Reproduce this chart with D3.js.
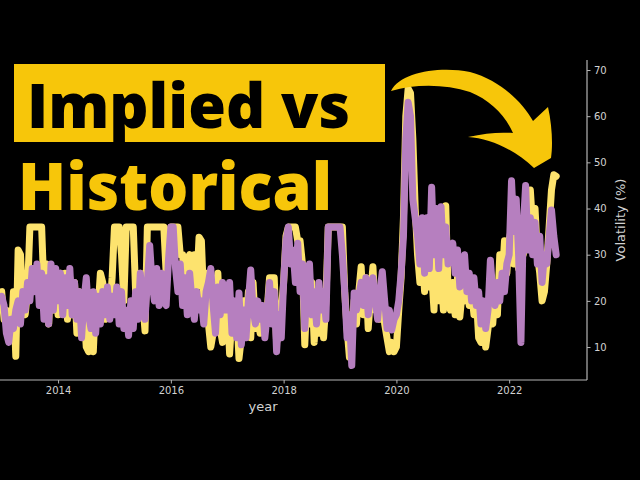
<!DOCTYPE html>
<html>
<head>
<meta charset="utf-8">
<script src="https://cdn.jsdelivr.net/npm/d3@7"></script>
<style>
  html, body { margin: 0; padding: 0; background: #000; }
  svg { display: block; }
</style>
</head>
<body>
<svg id="chart" width="640" height="480"></svg>
<script>
// ---- data (semi-monthly samples from 2013.0, decimal years) ----
const startYear = 2013;
const stepsPerYear = 24;
const implied = [
  22,16,18,14,12,22,8,31,30,20,17,22,36,36,36,36,36,36,22,28,15,27,18,26,
  17,26,19,26,16,25,17,24,13,22,14,18,10,9,14,9,21,18,26,24,16,22,18,25,
  36,36,36,30,20,36,36,36,36,22,17,26,20,13.5,36,36,36,36,36,36,36,36,26,30,
  36,36,36,36,30,30,22,29,30,22,30,23,33.8,33,20,26,15,10,13,22,26,14,11,20,
  20,8.5,17,14,18,7.5,12,20,13,22,12,24,14,16,13,17,14,18,25,25,25,11,13,18,
  24,34,36,36,36,36,33,33,28,10.5,22,15,24,11,20,13,22,12,20,36,36,36,36,36,
  36,36,22,14,7.8,12,20,15,22,27.4,17,25,14,21,27.4,18,22,16,20,15,12,9,11,9,
  10,18,25,38,60,66,65,55,40,30,24,30,22,32,23,26,18,32,20,26,18,40.6,22,18,
  24,17,25,16.5,22,20,24,19,22,17,21,12,11,15,10,14,18,15,22,17,30,24,33,26,
  33,36,28,36,27,32,30,36,40,44,36,40,30,26,20,22,28,36,44,47.3,47
];
const historical = [
  21,19,13,11,16,14,18,20,15,22,18,24,20,27,22,28,19,26,16,25,15,28,18,27,
  20,26,17,25,19,27,17,24,16,22,12,20,25,17,14,22,13,21,15,22,17,23,16,21,
  17,23,15,22,14,18,12.5,20,14,22,16,26,19,16,24,32,24,20,27,19,26,20,19,29,
  36,36,27,22,28,19,25,17,26,20,16,22,18,20,15,22,24,27,19,13,23,17,24,18,
  18,24,13,20,12,21.7,10.5,18,12,20,26.7,18,15,20,16,19,12,17,24,15,22,9,17,12,
  24,33,36,28,31,24,32.5,22,28,14,24,28,17,22,15,24,18,22,16,36,36,36,36,36,
  36,30,22,12,17,6,21.7,18,21,24,19,25,17,22,25,20,16,22,26.3,20,14,18,13.7,16,
  17,20,26,34,55,63,60,42,38,34,28,38,26,38,27,44.6,30,40,27,40.4,30,36,28,30,
  32.5,26,31,23,28,30,22,26,20,25,19,22,15,20,14,18,28.8,22,19,24,20,26,22,28,
  30,46,35,42,30,11,36,45,31,38,30,37,28,34,24,30,28,34,39.7,34,30
];
const impliedDates = implied.map((_, i) => startYear + i / stepsPerYear);
const historicalDates = historical.map((_, i) => startYear + i / stepsPerYear);
const xTicks = [2014, 2016, 2018, 2020, 2022];
const yTicks = [10, 20, 30, 40, 50, 60, 70];

// ---- layout ----
const svg = d3.select("#chart");
const plot = { left: 0, right: 587, top: 60, bottom: 380 };
const x = d3.scaleLinear().domain([2012.97, 2023.38]).range([plot.left, plot.right]);
const y = d3.scaleLinear().domain([2.86, 72.17]).range([plot.bottom, plot.top]);

svg.append("rect").attr("width", 640).attr("height", 480).attr("fill", "#000");

function drawSeries(values, dates, color) {
  const line = d3.line().x((d, i) => x(dates[i])).y(d => y(d));
  svg.append("path").datum(values)
    .attr("d", line).attr("fill", "none")
    .attr("stroke", color).attr("stroke-width", 7)
    .attr("stroke-linejoin", "round").attr("stroke-linecap", "round");
}
drawSeries(implied, impliedDates, "#fde36e");
drawSeries(historical, historicalDates, "#b67fbf");

// ---- axes ----
const axisColor = "#b5b5b5";
const textColor = "#d2d2d2";

const xAxis = svg.append("g").attr("transform", `translate(0,${plot.bottom})`)
  .call(d3.axisBottom(x).tickValues(xTicks).tickFormat(d3.format("d")).tickSize(3.5).tickPadding(3));
const yAxis = svg.append("g").attr("transform", `translate(${plot.right},0)`)
  .call(d3.axisRight(y).tickValues(yTicks).tickFormat(d3.format("d")).tickSize(3.5).tickPadding(3.5));

[xAxis, yAxis].forEach(g => {
  g.select(".domain").attr("stroke", axisColor).attr("stroke-width", 1.2);
  g.selectAll(".tick line").attr("stroke", axisColor).attr("stroke-width", 1);
  g.selectAll(".tick text").attr("fill", textColor)
    .style("font-family", "'DejaVu Sans', sans-serif").style("font-size", "10px");
});
xAxis.select(".domain").attr("d", `M${plot.left},0H${plot.right}`);
yAxis.select(".domain").attr("d", `M0,${plot.top}V${plot.bottom}`);

svg.append("text").text("year")
  .attr("x", 263).attr("y", 411).attr("text-anchor", "middle")
  .attr("fill", textColor)
  .style("font-family", "'DejaVu Sans', sans-serif").style("font-size", "13px");

svg.append("text").text("Volatility (%)")
  .attr("transform", "translate(625,220) rotate(-90)")
  .attr("text-anchor", "middle").attr("fill", textColor)
  .style("font-family", "'DejaVu Sans', sans-serif").style("font-size", "13px");

// ---- overlay title ----
const gold = "#f7c60a";
svg.append("rect").attr("x", 14).attr("y", 64).attr("width", 371).attr("height", 78).attr("fill", gold);
svg.append("text").text("Implied vs")
  .attr("x", 27).attr("y", 128)
  .attr("textLength", 323).attr("lengthAdjust", "spacingAndGlyphs")
  .attr("fill", "#000")
  .style("font-family", "'Open Sans', sans-serif").style("font-weight", 800).style("font-size", "62px");
svg.append("text").text("Historical")
  .attr("x", 18).attr("y", 210)
  .attr("textLength", 314).attr("lengthAdjust", "spacingAndGlyphs")
  .attr("fill", gold)
  .style("font-family", "'Open Sans', sans-serif").style("font-weight", 800).style("font-size", "66px");

// curved arrow
svg.append("path")
  .attr("d", "M391,91 C400,72 440,66 470,72 C500,80 522,102 533,121 L548,107 C552,125 553,145 551,158 L534,168 C515,150 490,138 468,137 C485,133 500,132 513,133 C505,115 490,100 470,92 C445,84 415,84 391,91 Z")
  .attr("fill", gold);
</script>
</body>
</html>
